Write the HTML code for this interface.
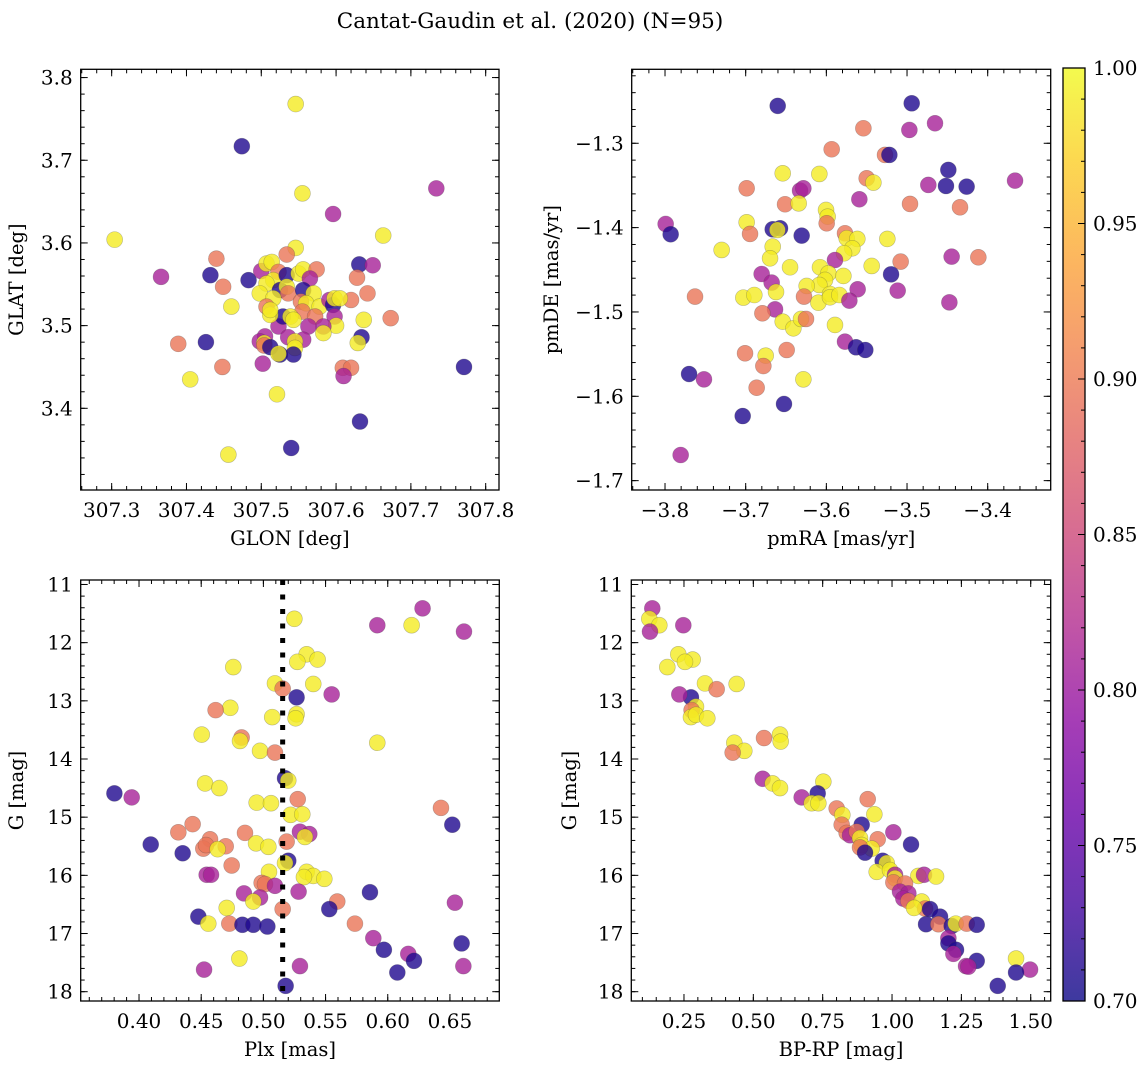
<!DOCTYPE html>
<html><head><meta charset="utf-8"><style>
html,body{margin:0;padding:0;background:#fff;}
svg{display:block;font-family:"DejaVu Serif","Liberation Serif",serif;}
</style></head><body>
<svg id="fig" width="1148" height="1068" viewBox="0 0 1148 1068" xmlns="http://www.w3.org/2000/svg">
<defs>
<linearGradient id="plasma" x1="0" y1="1" x2="0" y2="0">
<stop offset="0" stop-color="#0d0887"/><stop offset="0.1" stop-color="#41049d"/><stop offset="0.2" stop-color="#6a00a8"/><stop offset="0.3" stop-color="#8f0da4"/><stop offset="0.4" stop-color="#b12a90"/><stop offset="0.5" stop-color="#cc4778"/><stop offset="0.6" stop-color="#e16462"/><stop offset="0.7" stop-color="#f2844b"/><stop offset="0.8" stop-color="#fca636"/><stop offset="0.9" stop-color="#fcce25"/><stop offset="1" stop-color="#f0f921"/>
</linearGradient>
</defs>
<text x="530" y="28" font-size="21.5" text-anchor="middle">Cantat-Gaudin et al. (2020) (N=95)</text>
</svg>
<script>
// ---- Panel 1: GLON vs GLAT ----
const p1_glon=[307.546,307.474,307.734,307.555,307.596,307.304,307.663,307.546,307.534,307.440,
307.631,307.649,307.366,307.432,307.483,307.449,307.460,307.389,307.426,307.448,
307.405,307.521,307.456,307.540,307.632,307.771,307.673,307.609,307.620,307.610,
307.634,307.629,307.637,307.642,307.628,307.620,307.500,307.507,307.514,307.523,
307.516,307.534,307.550,307.556,307.574,307.565,307.507,307.525,307.534,307.536,
307.556,307.570,307.498,307.516,307.507,307.553,307.560,307.578,307.591,307.596,
307.598,307.605,307.555,307.572,307.598,307.600,307.583,307.583,307.563,307.523,
307.529,307.512,307.512,307.539,307.543,307.505,307.498,307.504,307.504,307.512,
307.536,307.556,307.545,307.545,307.543,307.525,307.523,307.502];
const p1_glat=[3.768,3.717,3.666,3.660,3.635,3.604,3.609,3.594,3.586,3.581,
3.574,3.573,3.559,3.561,3.555,3.547,3.523,3.478,3.480,3.450,
3.435,3.417,3.344,3.352,3.384,3.450,3.509,3.449,3.449,3.439,
3.486,3.479,3.507,3.539,3.558,3.531,3.566,3.575,3.577,3.565,
3.555,3.561,3.563,3.568,3.568,3.557,3.551,3.543,3.547,3.539,
3.543,3.539,3.539,3.533,3.523,3.529,3.527,3.523,3.531,3.525,
3.533,3.533,3.517,3.511,3.511,3.500,3.499,3.491,3.499,3.499,
3.511,3.513,3.519,3.511,3.507,3.487,3.481,3.479,3.476,3.474,
3.486,3.483,3.481,3.473,3.465,3.465,3.466,3.454];
const p1_prob=[0.99,0.71,0.81,0.99,0.81,0.99,0.99,0.99,0.895,0.895,
0.71,0.81,0.81,0.71,0.71,0.895,0.99,0.895,0.71,0.895,
0.99,0.99,0.99,0.71,0.71,0.71,0.895,0.895,0.895,0.81,
0.71,0.99,0.99,0.895,0.895,0.895,0.81,0.99,0.99,0.895,
0.99,0.71,0.99,0.99,0.895,0.81,0.99,0.71,0.99,0.895,
0.71,0.99,0.99,0.99,0.895,0.895,0.99,0.99,0.81,0.71,
0.99,0.99,0.895,0.895,0.81,0.99,0.81,0.99,0.81,0.81,
0.71,0.99,0.99,0.99,0.99,0.81,0.81,0.99,0.895,0.71,
0.81,0.81,0.99,0.99,0.71,0.71,0.99,0.81];
const p1_xticks=[307.3,307.4,307.5,307.6,307.7,307.8];
const p1_yticks=[3.4,3.5,3.6,3.7,3.8];

// ---- Panel 2: pmRA vs pmDE ----
const p2_pmra=[-3.6603,-3.4942,-3.4653,-3.5541,-3.4971,-3.5934,-3.5273,-3.5219,-3.4488,-3.3661,
-3.6541,-3.6087,-3.5500,-3.5417,-3.4736,-3.4517,-3.4261,-3.6988,-3.6326,-3.6285,
-3.5591,-3.6512,-3.6343,-3.4963,-3.4343,-3.6004,-3.5984,-3.5996,-3.7992,-3.7930,
-3.6988,-3.6946,-3.6665,-3.6574,-3.6607,-3.6306,-3.5769,-3.5748,-3.5616,-3.5678,
-3.5781,-3.5244,-3.7298,-3.6665,-3.6698,-3.5893,-3.5079,-3.4447,-3.4116,-3.6450,
-3.6079,-3.5438,-3.5975,-3.6017,-3.5789,-3.6802,-3.6678,-3.6087,-3.6244,-3.5198,
-3.6624,-3.5612,-3.5116,-3.7628,-3.7029,-3.6893,-3.6277,-3.6099,-3.5955,-3.5955,
-3.5839,-3.5715,-3.4475,-3.6636,-3.6793,-3.6541,-3.6409,-3.6314,-3.6252,-3.5893,
-3.5769,-3.5632,-3.5517,-3.6492,-3.7008,-3.6752,-3.6781,-3.7702,-3.7517,-3.6285,
-3.6864,-3.6525,-3.7037,-3.7806];
const p2_pmde=[-1.2557,-1.2526,-1.2763,-1.2822,-1.2842,-1.3071,-1.3138,-1.3138,-1.3316,-1.3443,
-1.3356,-1.3364,-1.3415,-1.3466,-1.3494,-1.3506,-1.3514,-1.3534,-1.3561,-1.3534,
-1.3664,-1.3723,-1.3712,-1.3719,-1.3759,-1.3791,-1.3870,-1.3949,-1.3957,-1.4079,
-1.3937,-1.4075,-1.4020,-1.4008,-1.4028,-1.4095,-1.4067,-1.4126,-1.4134,-1.4245,
-1.4304,-1.4134,-1.4265,-1.4225,-1.4364,-1.4384,-1.4403,-1.4344,-1.4352,-1.4470,
-1.4470,-1.4455,-1.4542,-1.4621,-1.4573,-1.4550,-1.4652,-1.4680,-1.4692,-1.4554,
-1.4763,-1.4731,-1.4747,-1.4818,-1.4830,-1.4799,-1.4818,-1.4890,-1.4787,-1.4826,
-1.4799,-1.4866,-1.4886,-1.4969,-1.5016,-1.5115,-1.5194,-1.5083,-1.5083,-1.5154,
-1.5352,-1.5419,-1.5451,-1.5451,-1.5490,-1.5518,-1.5641,-1.5736,-1.5799,-1.5799,
-1.5898,-1.6091,-1.6234,-1.6696];
const p2_prob=[0.71,0.71,0.81,0.895,0.81,0.895,0.895,0.71,0.71,0.81,
0.99,0.99,0.895,0.99,0.81,0.71,0.71,0.895,0.81,0.81,
0.81,0.895,0.99,0.895,0.895,0.99,0.99,0.895,0.81,0.71,
0.99,0.895,0.71,0.71,0.99,0.71,0.895,0.99,0.99,0.99,
0.99,0.99,0.99,0.99,0.99,0.81,0.895,0.81,0.895,0.99,
0.99,0.99,0.99,0.99,0.99,0.81,0.81,0.99,0.99,0.71,
0.99,0.81,0.81,0.895,0.99,0.99,0.895,0.99,0.99,0.99,
0.99,0.81,0.81,0.81,0.895,0.99,0.99,0.99,0.895,0.99,
0.81,0.71,0.71,0.895,0.895,0.99,0.895,0.71,0.81,0.99,
0.895,0.71,0.71,0.81];
const p2_xticks=[-3.8,-3.7,-3.6,-3.5,-3.4];
const p2_yticks=[-1.3,-1.4,-1.5,-1.6,-1.7];

// ---- Panel 3: Plx vs G ----
const p3_plx=[0.628,0.5249,0.5916,0.6192,0.6613,0.5348,0.5436,0.5273,0.4758,0.5093,
0.5401,0.5155,0.5267,0.5549,0.4734,0.4616,0.5071,0.5267,0.5259,0.4504,
0.4825,0.4812,0.5916,0.4973,0.5093,0.5174,0.5200,0.4531,0.4646,0.3802,
0.3941,0.5276,0.4946,0.5061,0.6428,0.5219,0.5313,0.6519,0.4431,0.4316,
0.4852,0.5294,0.5369,0.5334,0.4094,0.4571,0.4517,0.4539,0.4697,0.4632,
0.4941,0.5040,0.5187,0.4351,0.5200,0.5174,0.4745,0.5045,0.5348,0.5401,
0.5490,0.5326,0.4544,0.4579,0.4986,0.5013,0.5093,0.5283,0.4844,0.4973,
0.5857,0.4919,0.5594,0.6540,0.5530,0.5155,0.4705,0.4477,0.4557,0.4726,
0.4831,0.4919,0.5032,0.5736,0.5884,0.5969,0.6594,0.6165,0.6211,0.4807,
0.4523,0.5294,0.6608,0.6077,0.5179];
const p3_g=[11.41,11.59,11.70,11.70,11.81,12.20,12.29,12.33,12.42,12.70,
12.71,12.79,12.94,12.89,13.12,13.16,13.28,13.23,13.30,13.58,
13.63,13.69,13.72,13.86,13.89,14.33,14.37,14.42,14.50,14.59,
14.66,14.69,14.75,14.76,14.84,14.96,14.95,15.13,15.12,15.26,
15.27,15.25,15.29,15.34,15.47,15.38,15.54,15.48,15.50,15.55,
15.45,15.51,15.42,15.62,15.75,15.79,15.83,15.94,15.94,16.01,
16.06,16.03,15.99,15.99,16.13,16.15,16.18,16.28,16.31,16.38,
16.29,16.45,16.45,16.47,16.58,16.58,16.56,16.71,16.83,16.83,
16.85,16.85,16.88,16.83,17.08,17.28,17.17,17.35,17.47,17.43,
17.62,17.56,17.56,17.67,17.90];
const p3_prob=[0.81,0.99,0.81,0.99,0.81,0.99,0.99,0.99,0.99,0.99,
0.99,0.895,0.71,0.81,0.99,0.895,0.99,0.99,0.99,0.99,
0.895,0.99,0.99,0.99,0.895,0.71,0.99,0.99,0.99,0.71,
0.81,0.895,0.99,0.99,0.895,0.99,0.99,0.71,0.895,0.895,
0.895,0.81,0.81,0.99,0.71,0.895,0.895,0.895,0.895,0.99,
0.99,0.99,0.895,0.71,0.71,0.99,0.895,0.99,0.99,0.99,
0.99,0.99,0.81,0.81,0.895,0.895,0.81,0.81,0.81,0.81,
0.71,0.99,0.895,0.81,0.71,0.895,0.99,0.71,0.99,0.895,
0.71,0.71,0.71,0.895,0.81,0.71,0.71,0.81,0.71,0.99,
0.81,0.81,0.81,0.71,0.71];
const p3_cut=[0.5155];
const p3_xticks=[0.40,0.45,0.50,0.55,0.60,0.65];
const p3_yticks=[11,12,13,14,15,16,17,18];

// ---- Panel 4: BP-RP vs G ----
const p4_bprp=[0.1358,0.1250,0.1611,0.2476,0.1274,0.2296,0.2813,0.2536,0.1899,0.3257,
0.4399,0.3678,0.2752,0.2332,0.2933,0.2776,0.2752,0.2933,0.3341,0.5962,
0.5385,0.5986,0.4315,0.4675,0.4255,0.7524,0.5337,0.5697,0.5962,0.7320,
0.6743,0.9123,0.7103,0.7344,0.8005,0.8209,0.9363,0.8906,0.8185,1.0048,
0.8365,0.8486,0.8726,0.9483,0.8846,1.0685,0.8906,0.9267,0.8846,0.9027,
0.9663,0.9808,0.9447,0.9928,1.0108,1.0108,1.0949,1.1154,1.1587,1.0048,
1.0469,1.0288,1.0589,1.0409,1.0589,1.1070,1.1190,1.1370,1.0793,1.1731,
1.1226,1.1671,1.2151,1.2296,1.2692,1.3053,1.2031,1.2031,1.2308,1.2212,
1.3053,1.4471,1.2668,1.2752,1.4976,1.4471,1.3810];
const p4_g=[11.41,11.59,11.70,11.70,11.81,12.20,12.29,12.33,12.42,12.70,
12.71,12.80,12.94,12.89,13.10,13.16,13.28,13.24,13.30,13.58,
13.64,13.70,13.72,13.86,13.89,14.39,14.34,14.42,14.50,14.59,
14.66,14.69,14.76,14.76,14.85,14.96,14.95,15.13,15.13,15.26,
15.27,15.31,15.25,15.38,15.36,15.47,15.48,15.54,15.52,15.61,
15.75,15.79,15.94,15.91,15.99,16.05,16.01,15.99,16.02,16.12,
16.14,16.28,16.31,16.40,16.44,16.45,16.57,16.58,16.56,16.71,
16.84,16.84,16.87,16.83,16.83,16.85,17.08,17.17,17.28,17.35,
17.47,17.43,17.56,17.57,17.62,17.67,17.90];
const p4_prob=[0.81,0.99,0.99,0.81,0.81,0.99,0.99,0.99,0.99,0.99,
0.99,0.895,0.71,0.81,0.99,0.895,0.99,0.99,0.99,0.99,
0.895,0.99,0.99,0.99,0.895,0.99,0.81,0.99,0.99,0.71,
0.81,0.895,0.99,0.99,0.895,0.99,0.99,0.71,0.895,0.81,
0.895,0.81,0.895,0.895,0.99,0.71,0.99,0.99,0.895,0.71,
0.71,0.99,0.99,0.99,0.81,0.99,0.99,0.81,0.99,0.895,
0.895,0.81,0.81,0.81,0.895,0.99,0.895,0.71,0.99,0.71,
0.71,0.895,0.71,0.99,0.895,0.71,0.81,0.71,0.71,0.81,
0.71,0.99,0.81,0.81,0.81,0.71,0.71];
const p4_xticks=[0.25,0.50,0.75,1.00,1.25,1.50];
const p4_yticks=[11,12,13,14,15,16,17,18];

const cb_ticks=[0.70,0.75,0.80,0.85,0.90,0.95,1.00];

const NS='http://www.w3.org/2000/svg';
const svg=document.getElementById('fig');
function mk(tag,attrs,parent){const e=document.createElementNS(NS,tag);for(const k in attrs)e.setAttribute(k,attrs[k]);(parent||svg).appendChild(e);return e;}
const stops=[[13,8,135],[65,4,157],[106,0,168],[143,13,164],[177,42,144],[204,71,120],[225,100,98],[242,132,75],[252,166,54],[252,206,37],[240,249,33]];
function plasma(p){let t=(p-0.7)/0.3;t=Math.max(0,Math.min(1,t));const f=t*10,i=Math.min(9,Math.floor(f)),r=f-i;const a=stops[i],b=stops[i+1];return 'rgb('+a.map((v,k)=>Math.round(v+(b[k]-v)*r)).join(',')+')';}

const TF=20, AF=19.5;
function panel(o){
  const g=mk('g',{});
  
  
  const sx=v=>o.x0+(v-o.xd[0])/(o.xd[1]-o.xd[0])*(o.x1-o.x0);
  const sy=v=>o.y1-(v-o.yd[0])/(o.yd[1]-o.yd[0])*(o.y1-o.y0);
  const pg=mk('g',{},g);
  
  
  for(let i=0;i<Math.min(o.xs.length,o.ys.length);i++){
    const c=mk('circle',{cx:sx(o.xs[i]),cy:sy(o.ys[i]),r:8,fill:plasma(o.ps[i]),'fill-opacity':0.8,stroke:'#444','stroke-opacity':0.35,'stroke-width':0.6},pg);
    
    
  }
  if(o.vline){
    const l=mk('line',{x1:sx(o.vline),x2:sx(o.vline),y1:o.y0,y2:o.y1,stroke:'#000','stroke-width':5,'stroke-dasharray':'5 9.5'},g);
    
    
  }
  const ax=mk('g',{stroke:'#000','stroke-width':1},g);
  
  
  const [xmin,xmax]=o.xd,[ymin,ymax]=o.yd;
  for(let v=Math.ceil(Math.min(xmin,xmax)/o.xm-1e-6)*o.xm;v<=Math.max(xmin,xmax)+1e-9;v+=o.xm){const X=sx(v);mk('line',{x1:X,x2:X,y1:o.y1,y2:o.y1-4},ax);mk('line',{x1:X,x2:X,y1:o.y0,y2:o.y0+4},ax);}
  for(let v=Math.ceil(Math.min(ymin,ymax)/o.ym-1e-6)*o.ym;v<=Math.max(ymin,ymax)+1e-9;v+=o.ym){const Y=sy(v);mk('line',{x1:o.x0,x2:o.x0+4,y1:Y,y2:Y},ax);mk('line',{x1:o.x1,x2:o.x1-4,y1:Y,y2:Y},ax);}
  o.xt.forEach(v=>{const X=sx(v);mk('line',{x1:X,x2:X,y1:o.y1,y2:o.y1-7},ax);mk('line',{x1:X,x2:X,y1:o.y0,y2:o.y0+7},ax);
    const t=mk('text',{x:X,y:o.y1+27,'font-size':TF,'text-anchor':'middle',stroke:'none',fill:'#000'},g);t.textContent=o.xf(v);
    });
  o.yt.forEach(v=>{const Y=sy(v);mk('line',{x1:o.x0,x2:o.x0+7,y1:Y,y2:Y},ax);mk('line',{x1:o.x1,x2:o.x1-7,y1:Y,y2:Y},ax);
    const t=mk('text',{x:o.x0-8,y:Y+7,'font-size':TF,'text-anchor':'end',stroke:'none',fill:'#000'},g);t.textContent=o.yf(v);
    });
  mk('rect',{x:o.x0,y:o.y0,width:o.x1-o.x0,height:o.y1-o.y0,fill:'none',stroke:'#000','stroke-width':1.3},ax);
  const xt=mk('text',{x:(o.x0+o.x1)/2,y:o.y1+55,'font-size':AF,'text-anchor':'middle'},g);xt.textContent=o.xl;
  
  const cy=(o.y0+o.y1)/2;
  const yt=mk('text',{x:o.ylx,y:cy,'font-size':AF,'text-anchor':'middle',transform:'rotate(-90 '+o.ylx+' '+cy+')'},g);yt.textContent=o.yl;
  
}
const m='\u2212';
panel({name:'glon-glat-panel',x0:80.7,x1:499,y0:69.3,y1:490,xd:[307.2586,307.8178],yd:[3.3012,3.81],xs:p1_glon,ys:p1_glat,ps:p1_prob,xt:p1_xticks,yt:p1_yticks,xm:0.02,ym:0.02,xf:v=>v.toFixed(1),yf:v=>v.toFixed(1),xl:'GLON [deg]',yl:'GLAT [deg]',ylx:23});
panel({name:'proper-motion-panel',x0:631.7,x1:1050.7,y0:69.3,y1:490,xd:[-3.8413,-3.3219],yd:[-1.7111,-1.2123],xs:p2_pmra,ys:p2_pmde,ps:p2_prob,xt:p2_xticks,yt:p2_yticks,xm:0.02,ym:0.02,xf:v=>m+Math.abs(v).toFixed(1),yf:v=>m+Math.abs(v).toFixed(1),xl:'pmRA [mas/yr]',yl:'pmDE [mas/yr]',ylx:558});
panel({name:'parallax-mag-panel',x0:80.7,x1:499.3,y0:580,y1:1001,xd:[0.3531,0.6897],yd:[18.16,10.923],xs:p3_plx,ys:p3_g,ps:p3_prob,xt:p3_xticks,yt:p3_yticks,xm:0.01,ym:0.2,xf:v=>v.toFixed(2),yf:v=>String(v),xl:'Plx [mas]',yl:'G [mag]',ylx:23,vline:p3_cut[0]});
panel({name:'cmd-panel',x0:631.3,x1:1050.7,y0:580,y1:1001,xd:[0.0601,1.572],yd:[18.16,10.923],xs:p4_bprp,ys:p4_g,ps:p4_prob,xt:p4_xticks,yt:p4_yticks,xm:0.05,ym:0.2,xf:v=>v.toFixed(2),yf:v=>String(v),xl:'BP-RP [mag]',yl:'G [mag]',ylx:576});

const cb=mk('g',{});


const cx0=1063,cx1=1085,cy0=68,cy1=1001;
mk('rect',{x:cx0,y:cy0,width:cx1-cx0,height:cy1-cy0,fill:'url(#plasma)','fill-opacity':0.8},cb);
mk('rect',{x:cx0,y:cy0,width:cx1-cx0,height:cy1-cy0,fill:'none',stroke:'#000','stroke-width':1.3},cb);
const cs=v=>cy1-(v-0.7)/0.3*(cy1-cy0);
for(let k=70;k<=100;k++){const Y=cs(k/100);mk('line',{x1:cx1,x2:cx1-4,y1:Y,y2:Y,stroke:'#000'},cb);}
cb_ticks.forEach(v=>{const Y=cs(v);mk('line',{x1:cx1,x2:cx1-7,y1:Y,y2:Y,stroke:'#000'},cb);
  const t=mk('text',{x:cx1+8,y:Y+7,'font-size':TF},cb);t.textContent=v.toFixed(2);
  });
</script>
</body></html>
